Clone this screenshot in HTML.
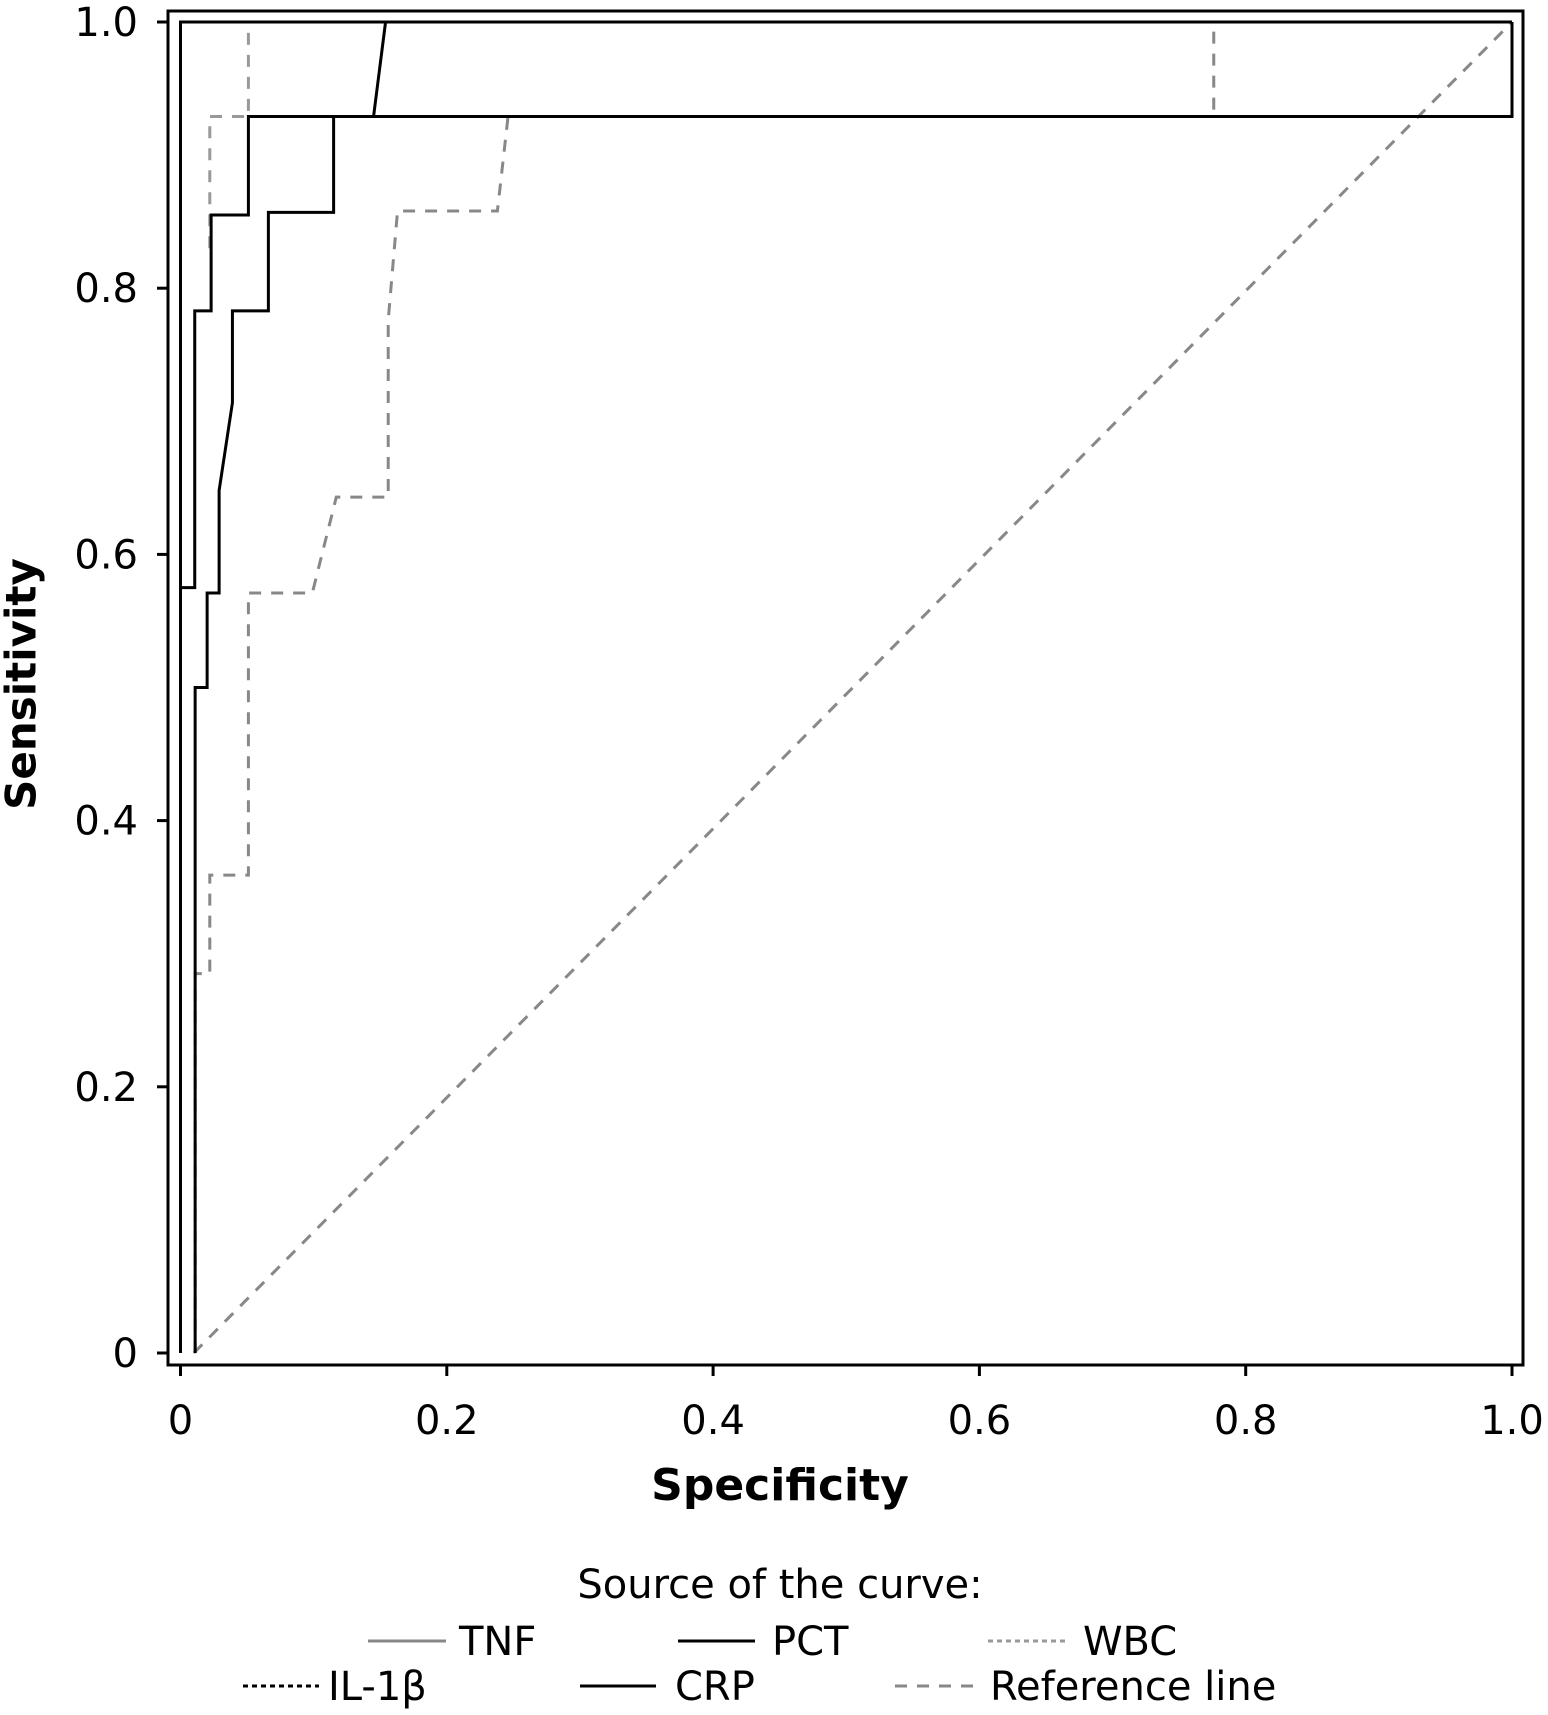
<!DOCTYPE html>
<html><head><meta charset="utf-8"><style>
html,body{margin:0;padding:0;background:#fff;}
svg{display:block;font-family:"DejaVu Sans","Liberation Sans",sans-serif;}
</style></head><body>
<svg id="chart" width="1548" height="1715" viewBox="0 0 1548 1715">
<rect x="168" y="11" width="1355" height="1354" fill="none" stroke="#000" stroke-width="3"/>
<g id="ticks"></g>
<g id="series"></g>
<text x="24" y="684" transform="rotate(-90 24 684)" text-anchor="middle" dominant-baseline="middle" font-size="42" font-weight="bold">Sensitivity</text>
<text x="780" y="1500" text-anchor="middle" font-size="44" font-weight="bold">Specificity</text>
<text x="780" y="1598" text-anchor="middle" font-size="40">Source of the curve:</text>
<g font-size="40">
<g><line x1="368" y1="1641" x2="446" y2="1641" stroke="#888" stroke-width="3"/><text x="459" y="1655">TNF</text></g>
<g><line x1="678" y1="1641" x2="755" y2="1641" stroke="#000" stroke-width="3"/><text x="772" y="1655">PCT</text></g>
<g><line x1="988" y1="1641" x2="1067" y2="1641" stroke="#999" stroke-width="3" stroke-dasharray="5,4"/><text x="1083" y="1655">WBC</text></g>
<g><line x1="243" y1="1686" x2="319" y2="1686" stroke="#000" stroke-width="3" stroke-dasharray="5,4"/><text x="328" y="1700">IL-1β</text></g>
<g><line x1="580" y1="1686" x2="656" y2="1686" stroke="#000" stroke-width="3"/><text x="675" y="1700">CRP</text></g>
<g><line x1="895" y1="1686" x2="974" y2="1686" stroke="#888" stroke-width="3" stroke-dasharray="12,10"/><text x="990" y="1700">Reference line</text></g>
</g>
</svg>
<script>
const xTicks=[0,0.2,0.4,0.6,0.8,1.0];
const yTicks=[0,0.2,0.4,0.6,0.8,1.0];
const tickLabels=["0","0.2","0.4","0.6","0.8","1.0"];
const tnfX=[0,0,1];
const tnfY=[0,1,1];
const pctX=[0,0,0.0107,0.0107,0.023,0.023,0.051,0.051,1,1];
const pctY=[0,0.575,0.575,0.783,0.783,0.855,0.855,0.929,0.929,1];
const crpX=[0.011,0.011,0.02,0.02,0.029,0.029,0.039,0.039,0.066,0.066,0.115,0.115,0.145,0.154,1];
const crpY=[0,0.5,0.5,0.571,0.571,0.648,0.714,0.783,0.783,0.857,0.857,0.929,0.929,1,1];
const wbcX=[0.011,0.011,0.022,0.022,0.051,0.051,0.099,0.117,0.156,0.156,0.163,0.238,0.246,0.776,0.776,1];
const wbcY=[0,0.285,0.285,0.359,0.359,0.571,0.571,0.643,0.643,0.776,0.858,0.858,0.929,0.929,1,1];
const ilX=[0.022,0.022,0.051,0.051,0.152];
const ilY=[0.83,0.929,0.929,1,1];
const refX=[0.01,1];
const refY=[0,1];
const NS="http://www.w3.org/2000/svg";
const X0=180.5,X1=1512,Y0=1353,Y1=22;
function sx(v){return X0+(X1-X0)*v;}
function sy(v){return Y0-(Y0-Y1)*v;}
const tg=document.getElementById('ticks');
xTicks.forEach((t,i)=>{
 const l=document.createElementNS(NS,'line');
 l.setAttribute('x1',sx(t));l.setAttribute('x2',sx(t));l.setAttribute('y1',1365);l.setAttribute('y2',1376);
 l.setAttribute('stroke','#000');l.setAttribute('stroke-width','3');
 
 
 tg.appendChild(l);
 const tx=document.createElementNS(NS,'text');
 tx.setAttribute('x',sx(t));tx.setAttribute('y',1434);tx.setAttribute('text-anchor','middle');tx.setAttribute('font-size','40');
 tx.textContent=tickLabels[i];
 
 
 tg.appendChild(tx);
});
yTicks.forEach((t,i)=>{
 const l=document.createElementNS(NS,'line');
 l.setAttribute('x1',157);l.setAttribute('x2',168);l.setAttribute('y1',sy(t));l.setAttribute('y2',sy(t));
 l.setAttribute('stroke','#000');l.setAttribute('stroke-width','3');
 
 
 tg.appendChild(l);
 const tx=document.createElementNS(NS,'text');
 tx.setAttribute('x',138);tx.setAttribute('y',sy(t)+14);tx.setAttribute('text-anchor','end');tx.setAttribute('font-size','40');
 tx.textContent=tickLabels[i];
 
 
 tg.appendChild(tx);
});
const sg=document.getElementById('series');
function draw(xs,ys,color,dash,name){
 const p=document.createElementNS(NS,'polyline');
 p.setAttribute('points',xs.map((x,i)=>sx(x)+','+sy(ys[i])).join(' '));
 p.setAttribute('fill','none');p.setAttribute('stroke',color);p.setAttribute('stroke-width','3');
 if(dash)p.setAttribute('stroke-dasharray',dash);
 
 
 sg.appendChild(p);
}
draw(refX,refY,'#888','12,10','reference-line');
draw(wbcX,wbcY,'#888','12,10','wbc-curve');
draw(ilX,ilY,'#999','12,10','il1b-curve');
draw(tnfX,tnfY,'#000',null,'tnf-curve');
draw(pctX,pctY,'#000',null,'pct-curve');
draw(crpX,crpY,'#000',null,'crp-curve');
</script>
</body></html>
